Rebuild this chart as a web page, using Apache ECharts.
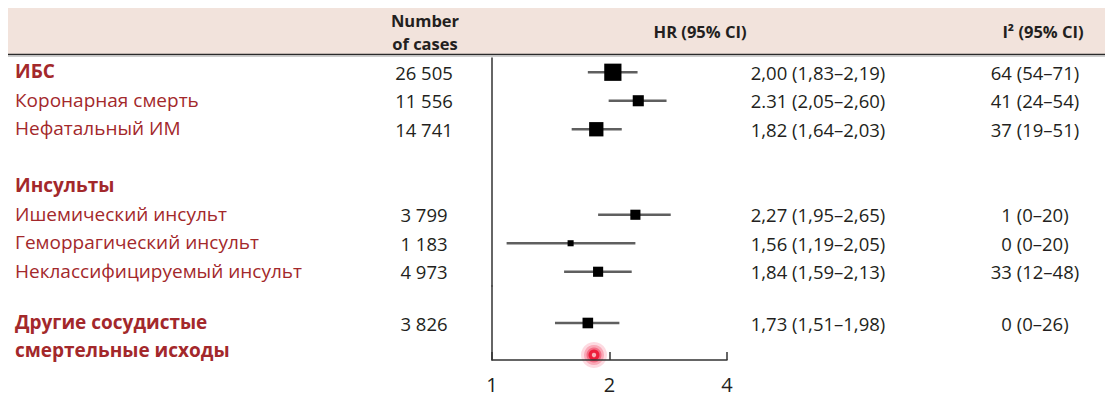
<!DOCTYPE html>
<html>
<head>
<meta charset="utf-8">
<script src="https://cdn.jsdelivr.net/npm/echarts@6/dist/echarts.min.js"></script>
<style>
html,body{margin:0;padding:0;background:#fff;}
#chart{width:1105px;height:397px;}
</style>
</head>
<body>
<div id="chart"></div>
<script>
// ---- data ----
const rowNames = ['ИБС','Коронарная смерть','Нефатальный ИМ','','Инсульты','Ишемический инсульт','Геморрагический инсульт','Неклассифицируемый инсульт','Другие сосудистые\nсмертельные исходы'];
const isHeader = [true,false,false,false,true,false,false,false,true];
const cases = ['26 505','11 556','14 741','','','3 799','1 183','4 973','3 826'];
const hrText = ['2,00 (1,83–2,19)','2.31 (2,05–2,60)','1,82 (1,64–2,03)','','','2,27 (1,95–2,65)','1,56 (1,19–2,05)','1,84 (1,59–2,13)','1,73 (1,51–1,98)'];
const i2Text = ['64 (54–71)','41 (24–54)','37 (19–51)','','','1 (0–20)','0 (0–20)','33 (12–48)','0 (0–26)'];
// plotted estimates as drawn in the figure
const hrPoint = [2.04, 2.37, 1.85, null, null, 2.33, 1.59, 1.87, 1.76];
const ciLow   = [1.76, 1.99, 1.60, null, null, 1.87, 1.09, 1.53, 1.45];
const ciHigh  = [2.36, 2.80, 2.15, null, null, 2.87, 2.33, 2.28, 2.12];
const weight  = [29, 12, 20, null, null, 10, 3.6, 10, 11];
const xTicks = [1, 2, 4];
const headers = {cases: 'Number\nof cases', hr: 'HR (95% CI)', i2: 'I² (95% CI)'};

// ---- sections: rows before splitAt go to the upper grid, the rest to the lower one ----
const splitAt = 8;
const sections = [[0, splitAt], [splitAt, rowNames.length]];

const RED = '#a3282b', INK = '#231f20', FONT = 'Open Sans';

const chart = echarts.init(document.getElementById('chart'), null, {renderer: 'svg'});

const grids = [
  {left: 492, right: 378, top: 58, height: 228},
  {left: 492, right: 378, top: 286, height: 74}
];

const xAxes = [], yAxes = [], series = [];
sections.forEach(([a, b], g) => {
  const cats = rowNames.slice(a, b);
  const last = g === sections.length - 1;
  xAxes.push({
    gridIndex: g, type: 'log', logBase: 2, min: xTicks[0], max: xTicks[xTicks.length - 1],
    show: last,
    axisLine: {show: true, onZero: false, lineStyle: {color: '#333', width: 1.5}},
    axisTick: {show: true, inside: true, length: 8, lineStyle: {color: '#333', width: 1.5}},
    axisLabel: {fontFamily: FONT, fontSize: 20, color: INK, margin: 14},
    splitLine: {show: false}
  });
  const base = yAxes.length;
  const twoLine = cats.some(c => c.indexOf('\n') >= 0);
  // name column
  yAxes.push({
    gridIndex: g, type: 'category', data: cats, inverse: true, position: 'left',
    axisLine: {show: true, lineStyle: {color: '#333', width: 1.5}},
    axisTick: {show: false}, splitLine: {show: false},
    axisLabel: {
      interval: 0, hideOverlap: false, align: 'left', margin: 477,
      padding: twoLine ? [26, 0, 0, 0] : [0, 0, 2, 0],
      formatter: (v, i) => v.split('\n').map(s => (isHeader[a + i] ? '{b|' : '{n|') + s + '}').join('\n'),
      rich: {
        b: {fontFamily: FONT, fontSize: 19, fontWeight: 'bold', color: RED, lineHeight: 28},
        n: {fontFamily: FONT, fontSize: 19, color: RED, lineHeight: 28}
      }
    }
  });
  const col = (arr, pos, margin) => ({
    gridIndex: g, type: 'category', data: cats, inverse: true, position: pos,
    axisLine: {show: false}, axisTick: {show: false}, splitLine: {show: false},
    axisLabel: {interval: 0, hideOverlap: false, align: 'center', margin: margin,
      fontFamily: FONT, fontSize: 18.5, color: INK, padding: twoLine ? [0, 0, 4, 0] : [0, 0, 2, 0],
      formatter: (v, i) => arr[a + i]}
  });
  yAxes.push(col(cases, 'left', 68));
  yAxes.push(col(hrText, 'right', 91));
  yAxes.push(col(i2Text, 'right', 308));

  const ciData = [], ptData = [];
  for (let i = a; i < b; i++) {
    if (hrPoint[i] == null) continue;
    ciData.push([ciLow[i], ciHigh[i], i - a]);
    ptData.push([hrPoint[i], i - a, weight[i]]);
  }
  series.push({
    type: 'custom', xAxisIndex: g, yAxisIndex: base, data: ciData,
    encode: {x: [0, 1], y: 2}, silent: true,
    renderItem: (params, api) => {
      const p1 = api.coord([api.value(0), api.value(2)]);
      const p2 = api.coord([api.value(1), api.value(2)]);
      return {type: 'line', shape: {x1: p1[0], y1: p1[1], x2: p2[0], y2: p2[1]},
        style: {stroke: '#5f5f5f', lineWidth: 2.6}};
    }
  });
  series.push({
    type: 'scatter', xAxisIndex: g, yAxisIndex: base, data: ptData,
    symbol: 'rect', symbolSize: v => Math.sqrt(v[2]) * 3.2,
    itemStyle: {color: '#000', opacity: 1}, silent: true, z: 5
  });
});

const option = {
  animation: false,
  backgroundColor: '#fff',
  grid: grids, xAxis: xAxes, yAxis: yAxes, series: series,
  graphic: [
    {type: 'rect', shape: {x: 8, y: 8, width: 1097, height: 46}, style: {fill: '#f2e3dc'}, z: -1},
    {type: 'line', shape: {x1: 8, y1: 54.5, x2: 1105, y2: 54.5}, style: {stroke: '#2a2a2a', lineWidth: 1.6}},
    {type: 'line', shape: {x1: 8, y1: 56.2, x2: 1105, y2: 56.2}, style: {stroke: '#b8b8b8', lineWidth: 1}},
    {type: 'text', x: 425, y: 32, style: {text: headers.cases, font: 'bold 16.5px "Open Sans"', fill: INK, align: 'center', verticalAlign: 'middle', lineHeight: 23}},
    {type: 'text', x: 700, y: 31, style: {text: headers.hr, font: 'bold 16.5px "Open Sans"', fill: INK, align: 'center', verticalAlign: 'middle'}},
    {type: 'text', x: 1043, y: 31, style: {text: headers.i2, font: 'bold 16.5px "Open Sans"', fill: INK, align: 'center', verticalAlign: 'middle'}},
    {type: 'group', x: 594, y: 355, z: 20, children: [
      {type: 'circle', shape: {r: 13}, style: {fill: 'rgba(248,150,170,0.35)'}},
      {type: 'circle', shape: {r: 10}, style: {fill: 'rgba(245,110,135,0.45)'}},
      {type: 'circle', shape: {r: 7.5}, style: {fill: 'rgba(240,70,100,0.6)'}},
      {type: 'circle', shape: {r: 5.5}, style: {fill: '#ee1f3c'}},
      {type: 'circle', shape: {r: 2.2}, style: {fill: '#f9b0b8'}}
    ]}
  ]
};
chart.setOption(option);
</script>
</body>
</html>
